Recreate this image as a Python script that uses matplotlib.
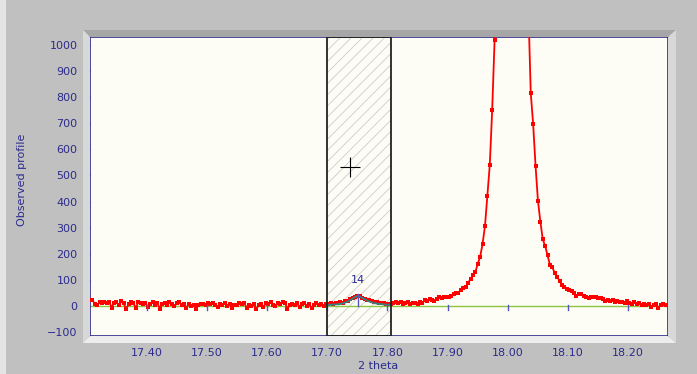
import matplotlib
matplotlib.use("Agg")
import matplotlib.pyplot as plt
import matplotlib.patches as patches
import numpy as np

# scan grid (start, step) and observed counts
start_2theta = 17.310
step_2theta = 0.004
observed = [
    22, 8, 4, 14, 12, 16, 10, 15, -6, 12,
    14, 2, 18, 10, -12, 6, 16, 12, -8, 14,
    10, 6, 12, -4, 8, 15, 4, 10, -10, 6,
    12, 2, 14, 8, -2, 10, 16, 4, 8, -6,
    6, 0, 4, -10, 2, 6, 8, 4, 10, 6,
    12, 2, -4, 8, 4, 10, -2, 6, -8, 4,
    2, 10, 6, 12, -6, 4, 0, 8, -12, 2,
    6, -4, 10, 8, 14, 4, -2, 12, 6, 14,
    10, -10, 4, 8, 2, 10, -4, 6, 12, 0,
    8, -8, 4, 10, 2, 6, -2, 8, 6, 10,
    8, 12, 10, 14, 12, 18, 20, 26, 30, 36,
    40, 38, 32, 28, 24, 22, 18, 16, 14, 12,
    10, 11, 8, 9, 6, 12, 14, 10, 16, 8,
    12, 14, 9, 13, 11, 8, 14, 10, 22, 18,
    25, 22, 20, 28, 34, 30, 36, 33, 36, 40,
    46, 48, 51, 62, 69, 74, 88, 103, 118, 130,
    161, 189, 237, 306, 421, 540, 751, 1019, 1900, 3600,
    5800, 7600, 8200, 7400, 6000, 4600, 3500, 2600, 2000, 1600,
    1300, 1150, 817, 697, 537, 403, 323, 255, 230, 194,
    157, 148, 125, 110, 97, 82, 74, 66, 60, 57,
    48, 38, 44, 46, 38, 33, 29, 33, 36, 34,
    30, 32, 26, 20, 22, 18, 24, 16, 20, 14,
    17, 12, 18, 10, 6, 14, 9, 12, 4, 8,
    2, 6, -4, 5, 8, -6, 4, 6, 3, 5,
]

# calculated profile inside the selected window (points 98..124)
calc_first = 98
calculated = [4, 5, 5, 6, 7, 8, 10, 13, 17, 22, 28, 34, 38, 36, 31, 26, 21,
              17, 14, 11, 9, 8, 7, 6, 5, 5, 4]

x_ticks = [17.40, 17.50, 17.60, 17.70, 17.80, 17.90, 18.00, 18.10, 18.20]
y_ticks = [-100, 0, 100, 200, 300, 400, 500, 600, 700, 800, 900, 1000]

window = [17.700, 17.806]
cursor = [17.738, 533]
reflection_pos = 17.751
reflection_height = 45
reflection_label = "14"

navy = "#2b2b8c"
W, H = 697, 374


def fig_xy(px, py):
    return (px / W, 1 - py / H)


def bevel(fig, pts, color):
    poly = patches.Polygon([fig_xy(*p) for p in pts], closed=True,
                           transform=fig.transFigure, facecolor=color,
                           edgecolor="none", zorder=0)
    fig.patches.append(poly)


def main():
    two_theta = np.round(start_2theta + step_2theta * np.arange(len(observed)), 3)
    calc_x = two_theta[calc_first:calc_first + len(calculated)]

    plt.rcParams["hatch.linewidth"] = 0.6
    fig = plt.figure(figsize=(W / 100, H / 100), dpi=100, facecolor="#c0c0c0")

    # left light strip
    fig.patches.append(patches.Rectangle((0, 0), 6 / W, 1, transform=fig.transFigure,
                                         facecolor="#e4e4e4", edgecolor="none", zorder=0))
    # bevel round the plot area
    bevel(fig, [(83, 30), (676, 30), (668, 37), (90, 37)], "#a6a6a6")
    bevel(fig, [(83, 30), (90, 37), (90, 336), (83, 343)], "#d8d8d8")
    bevel(fig, [(83, 343), (90, 336), (668, 336), (676, 343)], "#ededed")
    bevel(fig, [(676, 30), (668, 37), (668, 336), (676, 343)], "#d8d8d8")

    ax = fig.add_axes([90 / W, 1 - 336 / H, 578 / W, 299 / H])
    ax.set_facecolor("#fdfdf6")
    ax.set_xlim(17.306, 18.266)
    ax.set_ylim(-115, 1030)

    # selected window
    ax.add_patch(patches.Rectangle((window[0], -115), window[1] - window[0], 1145,
                                   facecolor="none", edgecolor="#cccccc", hatch="///",
                                   linewidth=0, zorder=1))
    ax.add_patch(patches.Rectangle((window[0], -115), window[1] - window[0], 1145,
                                   facecolor="none", edgecolor="#222222", linewidth=1.3,
                                   zorder=6))

    ax.axhline(0, color="#8cc63f", linewidth=1.0, zorder=2)
    ax.plot(two_theta, observed, color="red", linewidth=1.3, marker="s",
            markersize=3.4, markeredgewidth=0, zorder=3)
    ax.plot(calc_x, calculated, color="#2f8484", linewidth=1.3, zorder=4)

    # tick marks along the zero line
    for t in x_ticks:
        ax.plot([t, t], [3, -15], color="#5555c8", linewidth=1.0, zorder=5)
    ax.plot([reflection_pos, reflection_pos], [0, reflection_height],
            color="#5555c8", linewidth=1.0, zorder=5)
    ax.text(reflection_pos, 100, reflection_label, color=navy, fontsize=8,
            ha="center", va="center")

    ax.plot(cursor[0], cursor[1], marker="+", markersize=15, color="black",
            markeredgewidth=0.8, zorder=7)

    ax.set_xticks(x_ticks)
    ax.set_xticklabels(["%.2f" % t for t in x_ticks])
    ax.set_yticks(y_ticks)
    ax.tick_params(axis="x", length=0, pad=9, labelsize=8, labelcolor=navy)
    ax.tick_params(axis="y", direction="out", length=5, width=1.0, color=navy,
                   pad=4, labelsize=8, labelcolor=navy, right=True)
    for s in ax.spines.values():
        s.set_color(navy)
        s.set_linewidth(1.2)

    fig.text(378 / W, 1 - 366 / H, "2 theta", color=navy, fontsize=8,
             ha="center", va="center")
    fig.text(22 / W, 1 - 180 / H, "Observed profile", color=navy, fontsize=8,
             rotation=90, ha="center", va="center")

    fig.savefig("out.png", dpi=100, facecolor=fig.get_facecolor())


if __name__ == "__main__":
    main()
